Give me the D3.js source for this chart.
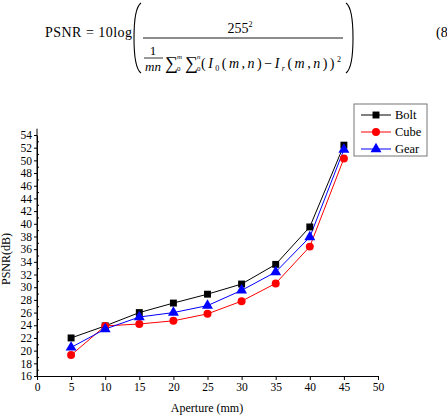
<!DOCTYPE html>
<html>
<head>
<meta charset="utf-8">
<script src="https://cdn.jsdelivr.net/npm/d3@7"></script>
<style>
  body { margin: 0; background: #fff; }
  svg text { font-family: "Liberation Serif", "Times New Roman", Times, serif; }
</style>
</head>
<body>
<div id="chart"></div>
<script>
// data
var apertures = [5, 10, 15, 20, 25, 30, 35, 40, 45];
var bolt = [22.0, 23.9, 26.0, 27.5, 28.9, 30.5, 33.6, 39.5, 52.4];
var cube = [19.3, 23.9, 24.2, 24.7, 25.8, 27.8, 30.6, 36.4, 50.3];
var gear = [20.5, 23.4, 25.3, 26.0, 27.1, 29.5, 32.4, 37.9, 51.7];
var seriesNames = ["Bolt", "Cube", "Gear"];
var xTicks = [0, 5, 10, 15, 20, 25, 30, 35, 40, 45, 50];
var yTicks = [16, 18, 20, 22, 24, 26, 28, 30, 32, 34, 36, 38, 40, 42, 44, 46, 48, 50, 52, 54];
var yMinor = [17, 19, 21, 23, 25, 27, 29, 31, 33, 35, 37, 39, 41, 43, 45, 47, 49, 51, 53];

var W = 447, H = 417;
var svg = d3.select("#chart").append("svg").attr("width", W).attr("height", H);

// ---- the equation above the chart ----
var eq = svg.append("g").attr("fill", "#000");
eq.append("text").attr("x", 45).attr("y", 37).attr("font-size", "14px").attr("textLength", 87).text("PSNR = 10log");
eq.append("text").attr("x", 240).attr("y", 33).attr("text-anchor", "middle").attr("font-size", "14px")
  .text("255").append("tspan").attr("dy", -6).attr("font-size", "8px").text("2");
eq.append("line").attr("x1", 143).attr("x2", 343).attr("y1", 38).attr("y2", 38).attr("stroke", "#000").attr("stroke-width", 0.9);
// 1/mn
eq.append("text").attr("x", 153).attr("y", 55).attr("text-anchor", "middle").attr("font-size", "13px").text("1");
eq.append("line").attr("x1", 144).attr("x2", 163).attr("y1", 58).attr("y2", 58).attr("stroke", "#000").attr("stroke-width", 0.8);
eq.append("text").attr("x", 153).attr("y", 71).attr("text-anchor", "middle").attr("font-size", "13px").attr("font-style", "italic").text("mn");
// sums
[165, 185].forEach(function (sx, i) {
    eq.append("text").attr("x", sx).attr("y", 69).attr("font-size", "18px").text("\u2211");
    eq.append("text").attr("x", sx + 12).attr("y", 59).attr("font-size", "7px").attr("font-style", "italic").text(i ? "n" : "m");
    eq.append("text").attr("x", sx + 12).attr("y", 71).attr("font-size", "7px").text("0");
});
var den = eq.append("text").attr("x", 201).attr("y", 68).attr("font-size", "14px").attr("textLength", 140);
den.append("tspan").text("(");
den.append("tspan").attr("font-style", "italic").text("I");
den.append("tspan").attr("font-size", "8px").attr("dy", 3).text("0");
den.append("tspan").attr("dy", -3).text("(");
den.append("tspan").attr("font-style", "italic").text("m,n");
den.append("tspan").text(")\u2212");
den.append("tspan").attr("font-style", "italic").text("I");
den.append("tspan").attr("font-size", "8px").attr("font-style", "italic").attr("dy", 3).text("r");
den.append("tspan").attr("dy", -3).text("(");
den.append("tspan").attr("font-style", "italic").text("m,n");
den.append("tspan").text("))");
den.append("tspan").attr("font-size", "8px").attr("dy", -6).text("2");
// big parentheses
eq.append("path").attr("d", "M141,3 Q134,8 134,38 Q134,68 141,73").attr("fill", "none").attr("stroke", "#000").attr("stroke-width", 1.1);
eq.append("path").attr("d", "M346,3 Q353,8 353,38 Q353,68 346,73").attr("fill", "none").attr("stroke", "#000").attr("stroke-width", 1.1);
eq.append("text").attr("x", 436).attr("y", 37).attr("font-size", "14px").text("(8");

// ---- chart ----
var x = d3.scaleLinear().domain([0, 50]).range([37, 378]);
var y = d3.scaleLinear().domain([16, 54]).range([376, 135]);

var data = [
    { name: seriesNames[0], values: bolt, color: "#000000", shape: d3.symbolSquare, size: 48 },
    { name: seriesNames[1], values: cube, color: "#ff0000", shape: d3.symbolCircle, size: 50 },
    { name: seriesNames[2], values: gear, color: "#0000ff", shape: d3.symbolTriangle, size: 52 }
];

svg.append("g").attr("transform", "translate(0," + y(16) + ")")
    .call(d3.axisBottom(x).tickValues(xTicks).tickSize(4).tickSizeOuter(0).tickPadding(3));
svg.append("g").attr("transform", "translate(" + x(0) + ",0)")
    .call(d3.axisLeft(y).tickValues(yTicks).tickSize(3).tickSizeOuter(0).tickPadding(2));
// minor ticks pointing into the plot
svg.append("g").attr("transform", "translate(" + x(0) + ",0)")
    .call(d3.axisRight(y).tickValues(yMinor).tickSize(2).tickSizeOuter(0).tickFormat(""))
    .select(".domain").remove();
// y axis line runs a little above 54
svg.append("line").attr("x1", x(0)).attr("x2", x(0)).attr("y1", y(55)).attr("y2", y(16)).attr("stroke", "#000");

svg.selectAll(".tick text").attr("font-size", "11.5px").attr("fill", "#000");
svg.selectAll("g").attr("font-family", null);
svg.selectAll(".tick line, .domain").attr("stroke", "#000");

svg.append("text").attr("x", 207).attr("y", 412).attr("text-anchor", "middle").attr("font-size", "12px").text("Aperture (mm)");
svg.append("text").attr("transform", "translate(10,259) rotate(-90)").attr("text-anchor", "middle").attr("font-size", "12px").text("PSNR(dB)");

var line = d3.line()
    .x(function (d, i) { return x(apertures[i]); })
    .y(function (d) { return y(d); });

data.forEach(function (s) {
    svg.append("path").datum(s.values).attr("d", line)
        .attr("fill", "none").attr("stroke", s.color).attr("stroke-width", 1);
});
data.forEach(function (s) {
    svg.selectAll(null).data(s.values).enter().append("path")
        .attr("d", d3.symbol().type(s.shape).size(s.size))
        .attr("transform", function (d, i) { return "translate(" + x(apertures[i]) + "," + y(d) + ")"; })
        .attr("fill", s.color);
});

// legend
var leg = svg.append("g");
leg.append("rect").attr("x", 354).attr("y", 104).attr("width", 73).attr("height", 52)
    .attr("fill", "#fff").attr("stroke", "#777").attr("stroke-width", 1);
data.forEach(function (s, i) {
    var ly = 115 + i * 17;
    leg.append("line").attr("x1", 361).attr("x2", 391).attr("y1", ly).attr("y2", ly).attr("stroke", s.color);
    leg.append("path").attr("d", d3.symbol().type(s.shape).size(s.size))
        .attr("transform", "translate(376," + ly + ")").attr("fill", s.color);
    leg.append("text").attr("x", 395).attr("y", ly + 4).attr("font-size", "12.5px").text(s.name);
});
</script>
</body>
</html>
